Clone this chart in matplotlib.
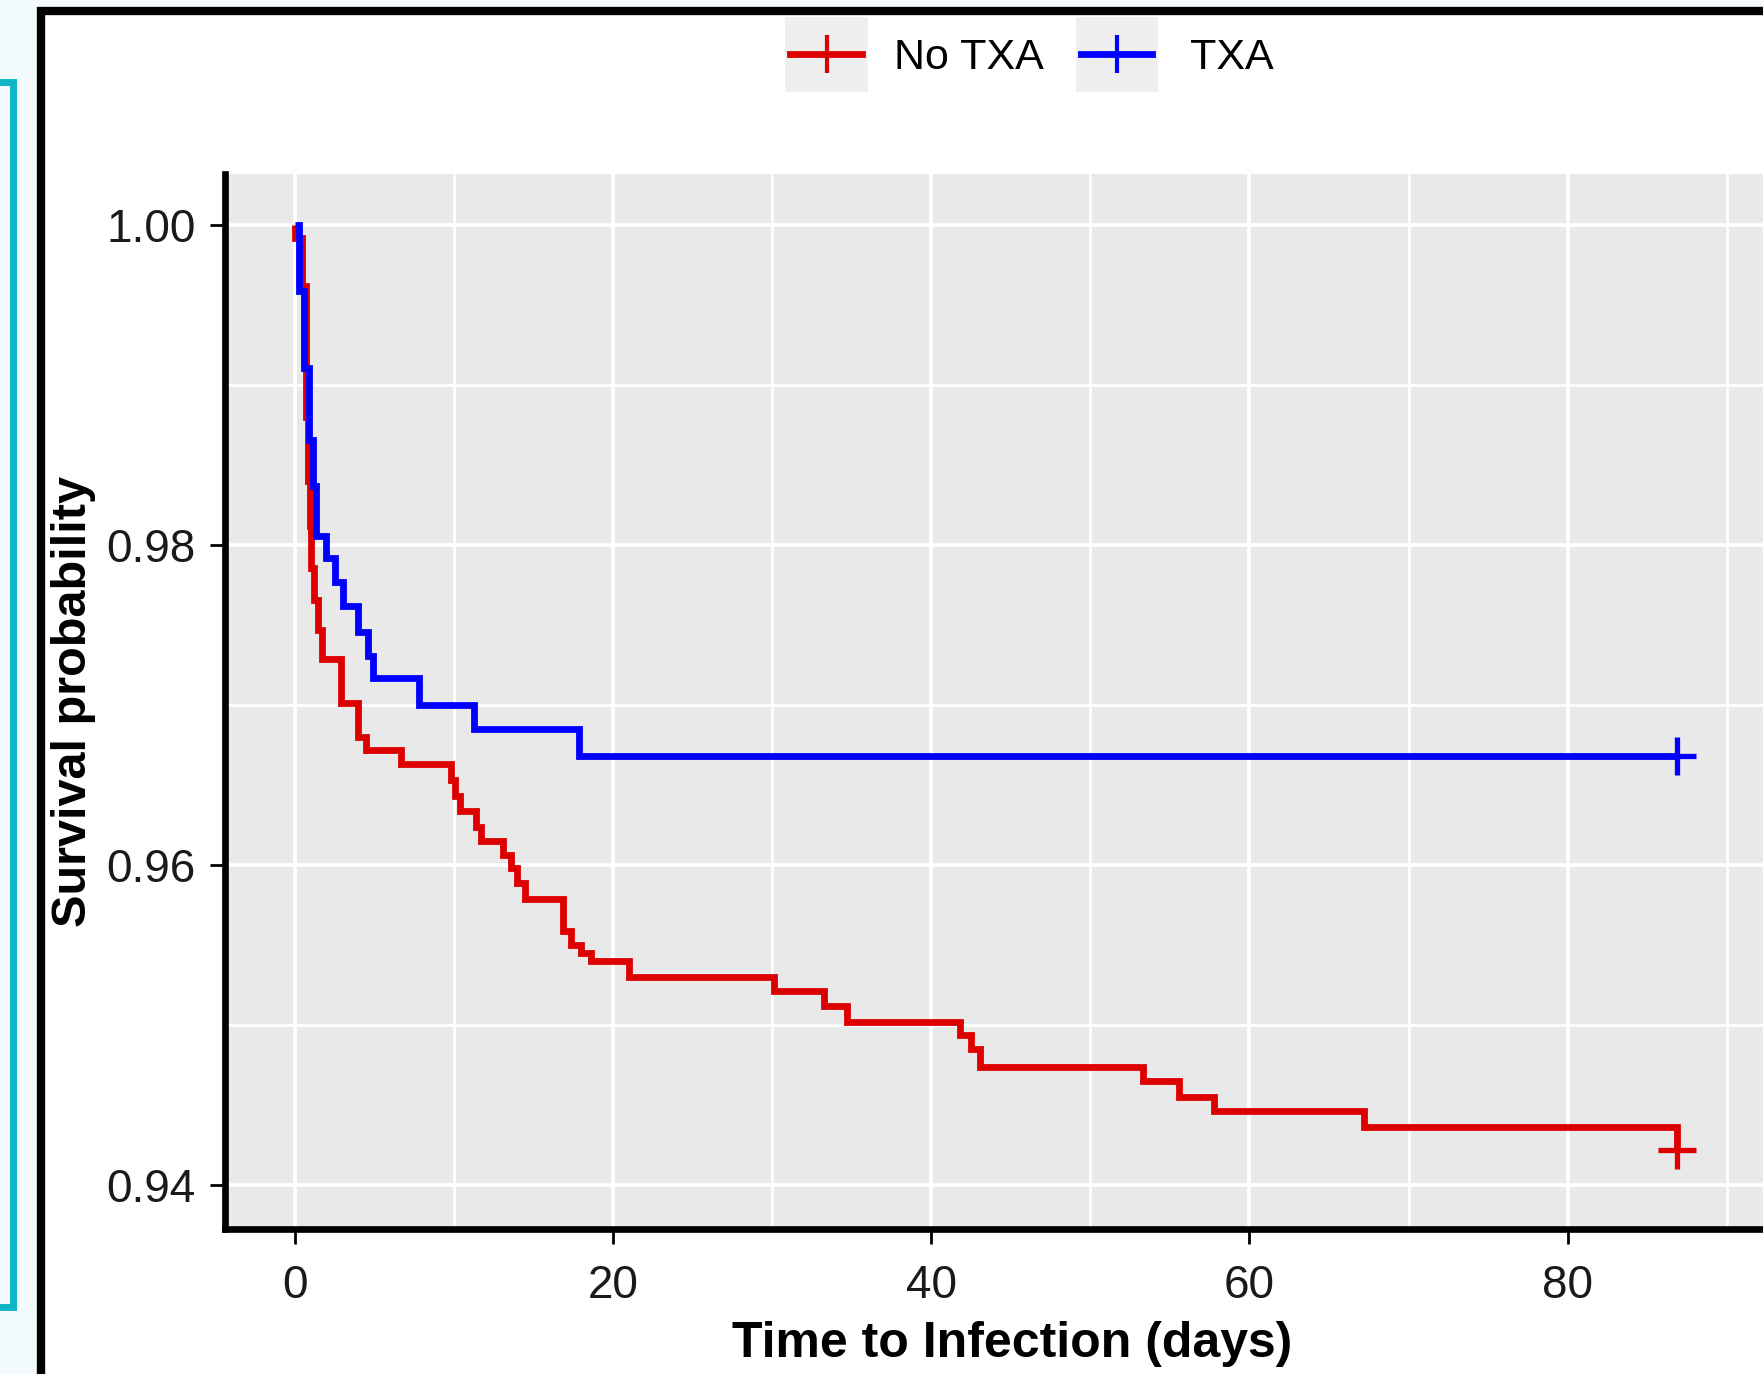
import matplotlib
matplotlib.use("Agg")
import matplotlib.pyplot as plt
from matplotlib.lines import Line2D
from matplotlib.patches import Rectangle

plt.rcParams['font.family'] = ['Liberation Sans', 'DejaVu Sans']

# Kaplan-Meier steps (time in days, survival after the drop)
no_txa_time = [0.0, 0.0, 0.45, 0.7, 0.85, 0.95, 1.05, 1.2, 1.45, 1.7, 2.9, 4.0, 4.5,
               6.7, 9.8, 10.1, 10.4, 11.4, 11.7, 13.1, 13.6, 14.0, 14.5, 16.9, 17.4,
               18.0, 18.6, 21.0, 30.1, 33.3, 34.7, 41.8, 42.5, 43.1, 53.3, 55.6, 57.8,
               67.2, 86.9]
no_txa_surv = [1.0, 0.9992, 0.9962, 0.9880, 0.9840, 0.9812, 0.9786, 0.9766, 0.9747,
               0.9729, 0.9701, 0.9680, 0.9672, 0.9663, 0.9653, 0.9643, 0.9634, 0.9624,
               0.9615, 0.9606, 0.9598, 0.9589, 0.9579, 0.9559, 0.9550, 0.9545, 0.9540,
               0.9530, 0.9521, 0.9512, 0.9502, 0.9494, 0.9485, 0.9474, 0.9465, 0.9455,
               0.9446, 0.9436, 0.9422]

txa_time = [0.0, 0.25, 0.6, 0.9, 1.15, 1.35, 2.0, 2.55, 3.05, 4.0, 4.6, 4.9, 7.8,
            11.3, 17.9, 86.9]
txa_surv = [1.0, 0.9959, 0.9911, 0.9866, 0.9837, 0.9806, 0.9792, 0.9777, 0.9762,
            0.9746, 0.9731, 0.9717, 0.9700, 0.9685, 0.9668, 0.9668]

groups = ['No TXA', 'TXA']
colors = ['#dd0000', '#0000ff']

x_ticks = [0, 20, 40, 60, 80]
y_ticks = [0.94, 0.96, 0.98, 1.00]

W, H = 1763, 1374


def fx(px):
    return px / W


def fy(py):
    return 1 - py / H


fig = plt.figure(figsize=(W / 100, H / 100), dpi=100, facecolor='#f3fbfc')

# white card with black border, cropped at right/bottom
frame = Rectangle((fx(41), fy(1420)), fx(1820) - fx(41), fy(10.5) - fy(1420),
                  transform=fig.transFigure, facecolor='white', edgecolor='black',
                  lw=6, zorder=-1)
fig.add_artist(frame)

# teal bracket at the far left
fig.add_artist(Line2D([fx(-5), fx(12.5), fx(12.5), fx(-5)],
                      [fy(82), fy(82), fy(1307), fy(1307)],
                      transform=fig.transFigure, color='#0fb6c6', lw=5,
                      solid_joinstyle='miter'))

ax = fig.add_axes([fx(225), fy(1229), fx(1800) - fx(225), fy(174) - fy(1229)])
ax.set_facecolor('#e9e9e9')

ax.step(no_txa_time, no_txa_surv, where='post', color=colors[0], lw=4.9,
        solid_joinstyle='miter', solid_capstyle='butt', zorder=3)
ax.step(txa_time, txa_surv, where='post', color=colors[1], lw=4.9,
        solid_joinstyle='miter', solid_capstyle='butt', zorder=3)
# censor marks at the end of follow-up
ax.plot([no_txa_time[-1]], [no_txa_surv[-1]], marker='+', ms=27, mew=3.8,
        color=colors[0], zorder=4)
ax.plot([txa_time[-1]], [txa_surv[-1]], marker='+', ms=27, mew=3.8,
        color=colors[1], zorder=4)

ax.set_xlim(-4.37, 94.6)
ax.set_ylim(0.93725, 1.0032)
ax.set_xticks(x_ticks)
ax.set_xticks([10, 30, 50, 70, 90], minor=True)
ax.set_yticks(y_ticks)
ax.set_yticklabels([f'{v:.2f}' for v in y_ticks])
ax.set_yticks([0.95, 0.97, 0.99], minor=True)

ax.grid(which='major', color='white', lw=2.7)
ax.grid(which='minor', color='white', lw=1.9)
ax.set_axisbelow(True)

for s in ['top', 'right']:
    ax.spines[s].set_visible(False)
for s in ['left', 'bottom']:
    ax.spines[s].set_linewidth(4.8)
    ax.spines[s].set_color('black')

ax.tick_params(which='minor', length=0)
ax.tick_params(which='major', length=11, width=2, colors='black',
               labelcolor='#1a1a1a', labelsize=33)
ax.tick_params(axis='x', pad=14)
ax.tick_params(axis='y', pad=10)

ax.set_xlabel('Time to Infection (days)', fontsize=36, fontweight='bold', va='center')
ax.xaxis.set_label_coords(0.5, -0.109)
ax.set_ylabel('Survival probability', fontsize=35, fontweight='bold', va='center')
ax.yaxis.set_label_coords(-0.0965, 0.5)

# legend above the panel, drawn by hand with grey key boxes
keys = [(785, 868, 894), (1076, 1158, 1190)]
for (k0, k1, tx), name, c in zip(keys, groups, colors):
    fig.add_artist(Rectangle((fx(k0), fy(92)), fx(k1) - fx(k0), fy(17) - fy(92),
                             transform=fig.transFigure, facecolor='#efefef',
                             edgecolor='none'))
    fig.add_artist(Line2D([fx(k0 + 5), fx(k1 - 6)], [fy(54), fy(54)],
                          transform=fig.transFigure, color=c, lw=4.9))
    fig.add_artist(Line2D([fx((k0 + k1) / 2)], [fy(54)], transform=fig.transFigure,
                          color=c, marker='+', ms=28, mew=3))
    fig.text(fx(tx), fy(58), name, fontsize=31, ha='left', va='center', color='black')

fig.savefig('out.png', dpi=100, facecolor=fig.get_facecolor())
